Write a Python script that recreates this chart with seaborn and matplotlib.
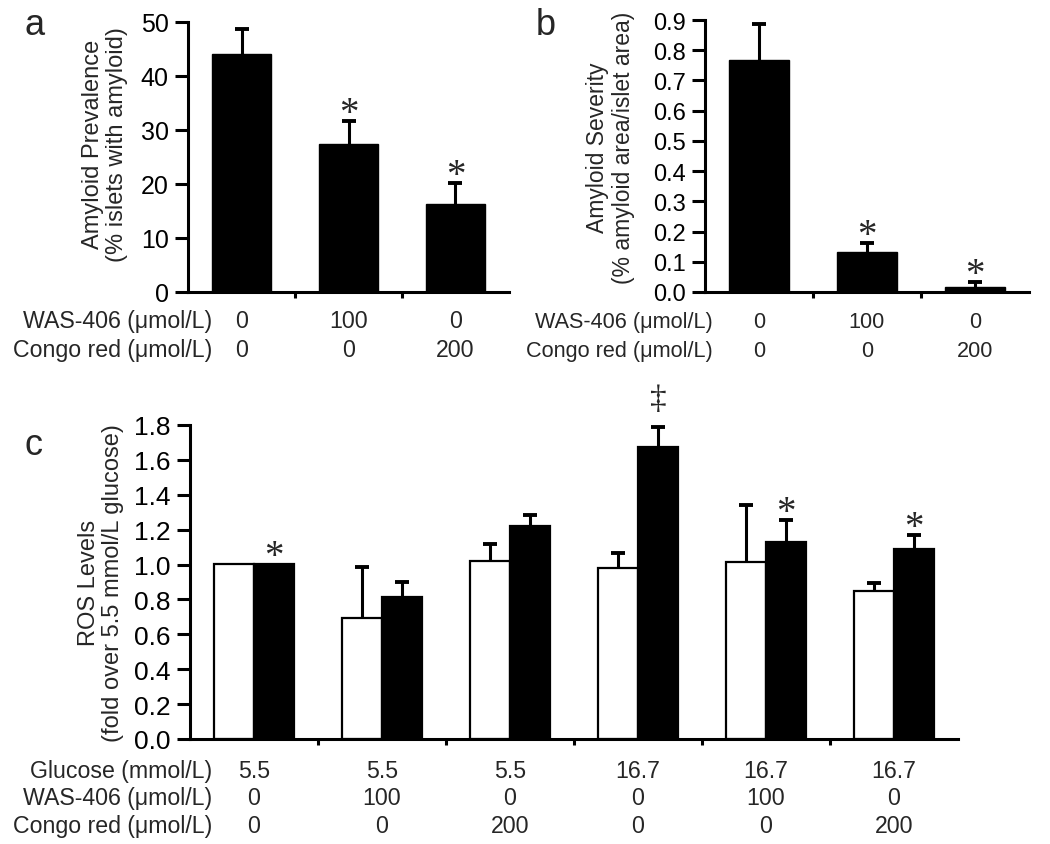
import matplotlib
matplotlib.use("Agg")
import matplotlib.pyplot as plt
import matplotlib.transforms as mtransforms
import seaborn as sns
import numpy as np
import pandas as pd

# ---- panels a and b: three treatment groups ----
treatments = ["Control", "WAS-406", "Congo red"]
was406_ab = ["0", "100", "0"]
congo_ab = ["0", "0", "200"]

prevalence_mean = [44.1, 27.4, 16.3]
prevalence_sem = [4.6, 4.3, 3.9]
prevalence_sig = ["", "*", "*"]

severity_mean = [0.766, 0.133, 0.018]
severity_sem = [0.122, 0.028, 0.015]
severity_sig = ["", "*", "*"]

# ---- panel c: six culture conditions, two bar series ----
conditions = ["c1", "c2", "c3", "c4", "c5", "c6"]
glucose_c = ["5.5", "5.5", "5.5", "16.7", "16.7", "16.7"]
was406_c = ["0", "100", "0", "0", "100", "0"]
congo_c = ["0", "0", "200", "0", "0", "200"]

ros_open_mean = [1.005, 0.692, 1.019, 0.980, 1.013, 0.847]
ros_open_sem = [0.0, 0.293, 0.099, 0.087, 0.329, 0.046]
ros_filled_mean = [1.005, 0.816, 1.223, 1.676, 1.128, 1.089]
ros_filled_sem = [0.0, 0.082, 0.061, 0.114, 0.129, 0.081]
ros_filled_sig = ["*", "", "", "\u2021", "*", "*"]
series = ["open", "filled"]

sns.set_theme(style="ticks")
plt.rcParams["font.family"] = ["Liberation Sans", "DejaVu Sans"]
plt.rcParams["axes.linewidth"] = 2.2

LW = 2.2
SERIF = ["Liberation Serif", "DejaVu Serif"]


def style_axes(ax, n, ylim, yticks, fmt, ylabel, tick_fs, lab_fs, lab_y=0.5, pad=7):
    sns.despine(ax=ax)
    ax.set_xlim(-0.5, n - 0.5)
    ax.set_ylim(*ylim)
    ax.set_yticks(yticks)
    ax.set_yticklabels([fmt.format(v) for v in yticks], fontsize=tick_fs)
    ax.set_xticks(np.arange(n - 1) + 0.5)
    ax.set_xticklabels([])
    ax.tick_params(axis="y", length=9.5, width=LW, pad=4.5, colors="black")
    ax.tick_params(axis="x", length=4, width=LW, colors="black")
    ax.set_xlabel("")
    ax.set_ylabel(ylabel, fontsize=lab_fs, linespacing=1.12, labelpad=pad)
    ax.yaxis.label.set_y(lab_y)
    for s in ax.spines.values():
        s.set_color("black")
        s.set_linewidth(LW)


def add_rows(ax, label_x, rows, ys, fs):
    trans = mtransforms.blended_transform_factory(ax.transData, ax.transAxes)
    for (label, vals), y in zip(rows, ys):
        ax.text(label_x, y, label, transform=ax.transAxes, ha="right",
                va="baseline", fontsize=fs, clip_on=False)
        for i, v in enumerate(vals):
            ax.text(i, y, v, transform=trans, ha="center", va="baseline",
                    fontsize=fs, clip_on=False)


def add_errors(ax, xs, means, sems):
    # upper half of the SEM bar only, one cap at the top
    for x, m, s in zip(xs, means, sems):
        if s <= 0:
            continue
        ax.vlines(x, m, m + s, color="black", lw=LW, zorder=3)
        ax.plot([x], [m + s], marker="_", ms=9.5, mew=2.8, color="black", zorder=3)


def add_marks(ax, xs, tops, marks):
    for x, t, m in zip(xs, tops, marks):
        if not m:
            continue
        if m == "*":
            ax.annotate(m, (x, t), xytext=(0, -1.5), textcoords="offset points",
                        ha="center", va="baseline", fontsize=28, family=SERIF)
        else:
            ax.annotate(m, (x, t), xytext=(0, 14), textcoords="offset points",
                        ha="center", va="baseline", fontsize=24, family=SERIF)


fig = plt.figure(figsize=(10.5, 8.45), dpi=100)
W, H = 1050, 845
ax_a = fig.add_axes([188 / W, 1 - 293 / H, 321 / W, 270 / H])
ax_b = fig.add_axes([705 / W, 1 - 293 / H, 324 / W, 272 / H])
ax_c = fig.add_axes([190 / W, 1 - 740 / H, 768 / W, 314 / H])

# panel a
sns.barplot(x=treatments, y=prevalence_mean, color="black", saturation=1,
            width=0.56, edgecolor="black", ax=ax_a)
xs = [p.get_x() + p.get_width() / 2 for p in ax_a.patches]
add_errors(ax_a, xs, prevalence_mean, prevalence_sem)
add_marks(ax_a, xs, np.add(prevalence_mean, prevalence_sem), prevalence_sig)
style_axes(ax_a, 3, (0, 50), np.arange(0, 51, 10), "{:.0f}",
           "Amyloid Prevalence\n(% islets with amyloid)", 18, 17, 0.55, 9)
add_rows(ax_a, 0.075, [("WAS-406 (\u03bcmol/L)", was406_ab),
                       ("Congo red (\u03bcmol/L)", congo_ab)], [-0.130, -0.237], 16.7)

# panel b
sns.barplot(x=treatments, y=severity_mean, color="black", saturation=1,
            width=0.56, edgecolor="black", ax=ax_b)
xs = [p.get_x() + p.get_width() / 2 for p in ax_b.patches]
add_errors(ax_b, xs, severity_mean, severity_sem)
add_marks(ax_b, xs, np.add(severity_mean, severity_sem), severity_sig)
style_axes(ax_b, 3, (0, 0.9), np.round(np.arange(0, 0.91, 0.1), 1), "{:.1f}",
           "Amyloid Severity\n(% amyloid area/islet area)", 17, 16.5, 0.535, 13)
add_rows(ax_b, 0.025, [("WAS-406 (\u03bcmol/L)", was406_ab),
                       ("Congo red (\u03bcmol/L)", congo_ab)], [-0.129, -0.235], 15.6)

# panel c
df_c = pd.DataFrame({
    "condition": conditions * 2,
    "series": [series[0]] * 6 + [series[1]] * 6,
    "ros": ros_open_mean + ros_filled_mean,
})
sns.barplot(data=df_c, x="condition", y="ros", hue="series", order=conditions,
            hue_order=series, palette=["white", "black"], saturation=1,
            width=0.625, gap=0, edgecolor="black", linewidth=1.6,
            legend=False, ax=ax_c)
bars = ax_c.patches
xs_open = [p.get_x() + p.get_width() / 2 for p in bars[:6]]
xs_filled = [p.get_x() + p.get_width() / 2 for p in bars[6:12]]
add_errors(ax_c, xs_open, ros_open_mean, ros_open_sem)
add_errors(ax_c, xs_filled, ros_filled_mean, ros_filled_sem)
add_marks(ax_c, xs_filled, np.add(ros_filled_mean, ros_filled_sem), ros_filled_sig)
style_axes(ax_c, 6, (0, 1.8), np.round(np.arange(0, 1.81, 0.2), 1), "{:.1f}",
           "ROS Levels\n(fold over 5.5 mmol/L glucose)", 19, 17)
add_rows(ax_c, 0.0286, [("Glucose (mmol/L)", glucose_c),
                        ("WAS-406 (\u03bcmol/L)", was406_c),
                        ("Congo red (\u03bcmol/L)", congo_c)],
         [-0.121, -0.207, -0.296], 16.7)

fig.text(24 / W, 1 - 35 / H, "a", fontsize=26, va="baseline")
fig.text(536 / W, 1 - 35 / H, "b", fontsize=26, va="baseline")
fig.text(24 / W, 1 - 455 / H, "c", fontsize=26, va="baseline")

fig.savefig("out.png", dpi=100, facecolor="white")
